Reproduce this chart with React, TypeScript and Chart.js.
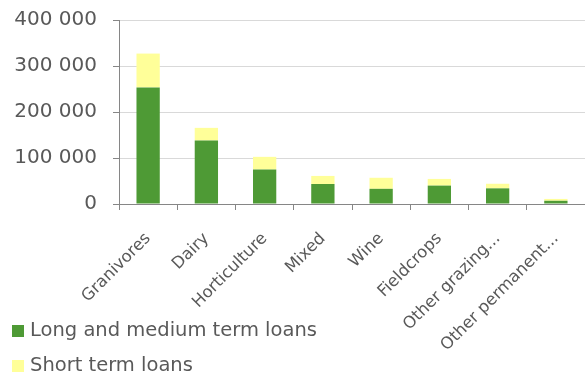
import React, { useEffect, useRef } from "react";
import { Chart, registerables } from "chart.js";

Chart.register(...registerables);

const categories = [
  "Granivores",
  "Dairy",
  "Horticulture",
  "Mixed",
  "Wine",
  "Fieldcrops",
  "Other grazing...",
  "Other permanent...",
];
const longMediumLoans = [253500, 138000, 75000, 43500, 33000, 40000, 34000, 7000];
const shortLoans = [73500, 27500, 27500, 17500, 24000, 14500, 10000, 4000];
const seriesNames = ["Long and medium term loans", "Short term loans"];
const seriesColors = ["#4E9A35", "#FFFF99"];
const yTicks = [0, 100000, 200000, 300000, 400000];

const FONT = "'DejaVu Sans', sans-serif";
const TEXT = "#595959";
const AXIS = "#868686";
const GRID = "#D9D9D9";

const fmt = (v: number) => String(v).replace(/\B(?=(\d{3})+(?!\d))/g, " ");

export default function App() {
  const ref = useRef<HTMLCanvasElement | null>(null);
  useEffect(() => {
    if (!ref.current) return;
    const chart = new Chart(ref.current, {
      type: "bar",
      data: {
        labels: categories,
        datasets: [
          { label: seriesNames[0], data: longMediumLoans, backgroundColor: seriesColors[0], barPercentage: 0.4, categoryPercentage: 1 },
          { label: seriesNames[1], data: shortLoans, backgroundColor: seriesColors[1], barPercentage: 0.4, categoryPercentage: 1 },
        ],
      },
      options: {
        responsive: false,
        animation: false,
        layout: { padding: { top: 20, left: 0, right: 0, bottom: 0 } },
        plugins: { legend: { display: false }, tooltip: { enabled: false } },
        scales: {
          x: {
            stacked: true,
            grid: { drawOnChartArea: false, tickLength: 6, tickColor: AXIS, offset: true },
            border: { color: AXIS },
            ticks: {
              color: TEXT,
              font: { family: FONT, size: 16.5 },
              minRotation: 45,
              maxRotation: 45,
              autoSkip: false,
              padding: 19,
            },
            afterFit: (s: any) => {
              s.height = 175;
              s.paddingLeft = 0;
              s.paddingRight = 0;
              s.paddingTop = 0;
            },
          },
          y: {
            stacked: true,
            min: yTicks[0],
            max: yTicks[yTicks.length - 1],
            afterBuildTicks: (s: any) => {
              s.ticks = yTicks.map((v) => ({ value: v }));
            },
            grid: { color: GRID, tickColor: AXIS, tickLength: 6 },
            border: { color: AXIS },
            ticks: {
              color: TEXT,
              font: { family: FONT, size: 20 },
              padding: 16,
              callback: (v: any) => fmt(Number(v)),
            },
            afterFit: (s: any) => {
              s.width = 119;
              s.paddingTop = 0;
              s.paddingBottom = 0;
            },
          },
        },
      },
    });
    return () => chart.destroy();
  }, []);

  const legendText: React.CSSProperties = {
    position: "absolute",
    left: 30,
    fontFamily: FONT,
    fontSize: 19.5,
    lineHeight: "20px",
    color: TEXT,
    whiteSpace: "nowrap",
  };
  return (
    <div style={{ position: "absolute", left: 0, top: 0, width: 585, height: 379 }}>
      <canvas ref={ref} width={585} height={379} style={{ display: "block" }} />
      <div style={{ position: "absolute", left: 12, top: 325, width: 12, height: 12, background: seriesColors[0] }} />
      <div style={{ ...legendText, top: 320 }}>{seriesNames[0]}</div>
      <div style={{ position: "absolute", left: 12, top: 360, width: 12, height: 12, background: seriesColors[1] }} />
      <div style={{ ...legendText, top: 355 }}>{seriesNames[1]}</div>
    </div>
  );
}
